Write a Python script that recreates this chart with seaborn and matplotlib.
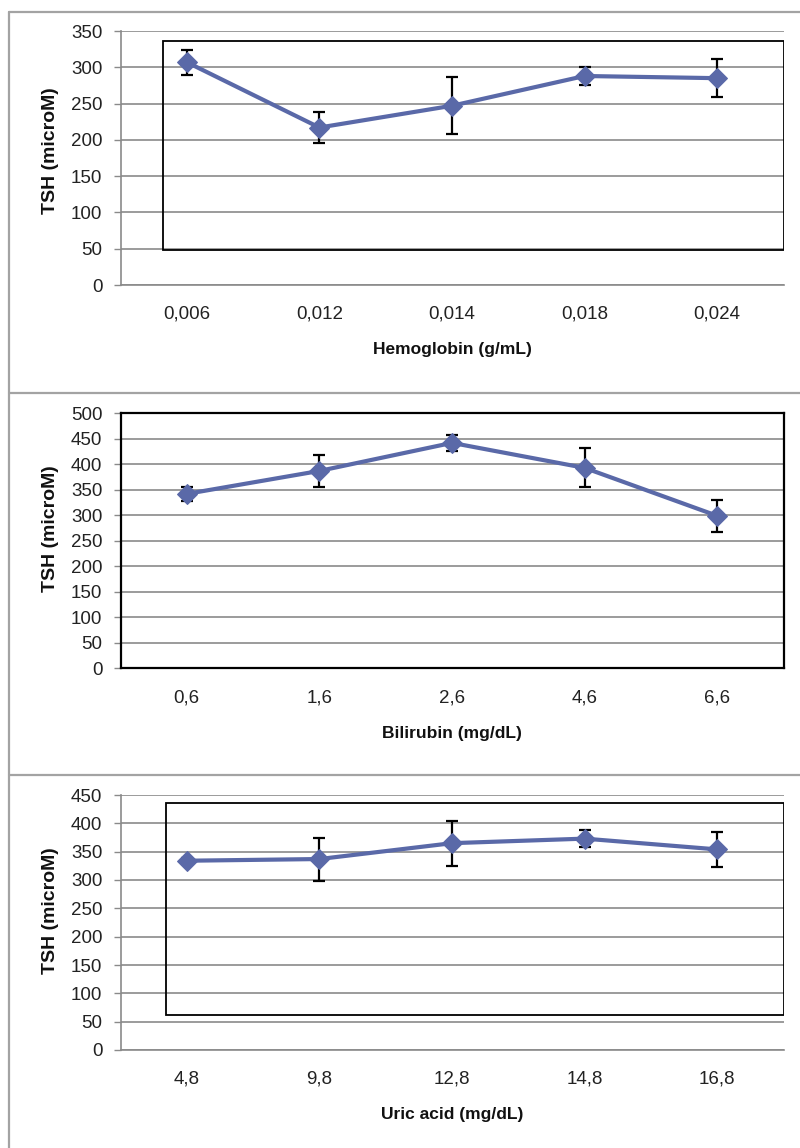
import numpy as np
import pandas as pd
import matplotlib
matplotlib.use("Agg")
import matplotlib.pyplot as plt
import seaborn as sns
from matplotlib.patches import Rectangle
from matplotlib.lines import Line2D

# ---------------- data ----------------
hb_labels = ["0,006", "0,012", "0,014", "0,018", "0,024"]
hb_tsh = [307, 217, 247, 288, 285]
hb_err = [17, 22, 39, 13, 26]

bil_labels = ["0,6", "1,6", "2,6", "4,6", "6,6"]
bil_tsh = [342, 387, 442, 393, 299]
bil_err = [13, 31, 16, 38, 31]

ua_labels = ["4,8", "9,8", "12,8", "14,8", "16,8"]
ua_tsh = [334, 337, 365, 373, 354]
ua_err = [5, 38, 40, 15, 31]

x_titles = ["Hemoglobin (g/mL)", "Bilirubin (mg/dL)", "Uric acid (mg/dL)"]
y_title = "TSH (microM)"
y_max = [350, 500, 450]

# ---------------- style ----------------
sns.set_style("white")
plt.rcParams["font.family"] = ["Liberation Sans", "DejaVu Sans"]

LINE = "#5a69a8"
GRID = "#8a8a8a"
FRAME = "#a3a3a3"

fig = plt.figure(figsize=(8.0, 11.48), dpi=100)
W, H = 800.0, 1148.0

# outer panel frame lines (figure coordinates)
def hline(y, x0=9, x1=800):
    fig.add_artist(Line2D([x0 / W, x1 / W], [1 - y / H, 1 - y / H],
                          color=FRAME, lw=1.6, transform=fig.transFigure))
def vline(x, y0=12, y1=1148):
    fig.add_artist(Line2D([x / W, x / W], [1 - y0 / H, 1 - y1 / H],
                          color=FRAME, lw=1.6, transform=fig.transFigure))

hline(12)
hline(392.7)
hline(775)
vline(9)

# axes placements (pixels: left, right, top, bottom)
ax_px = [(120.5, 783.5, 31, 285), (120.5, 783.5, 413.3, 668.3), (120.5, 783.5, 795, 1050)]
ylabel_y = [0.531, 0.547, 0.547]

panels = [
    (hb_labels, hb_tsh, hb_err),
    (bil_labels, bil_tsh, bil_err),
    (ua_labels, ua_tsh, ua_err),
]

# inner (misplaced) plot-area boxes for panels 1 and 3, in axes fraction
inner_boxes = {0: (0.064, 0.138, 0.936, 0.824), 2: (0.068, 0.136, 0.932, 0.831)}

for i, (labels, vals, errs) in enumerate(panels):
    l, r, t, b = ax_px[i]
    ax = fig.add_axes([l / W, 1 - b / H, (r - l) / W, (b - t) / H])
    df = pd.DataFrame({"pos": np.arange(len(labels)), "tsh": vals, "err": errs, "lab": labels})

    ax.errorbar(df["pos"], df["tsh"], yerr=df["err"], fmt="none", ecolor="black",
                elinewidth=1.6, capsize=4.5, capthick=1.6, zorder=3)
    sns.lineplot(data=df, x="pos", y="tsh", ax=ax, color=LINE, lw=3.0, marker="D",
                 markersize=10, markeredgecolor=LINE, sort=False, zorder=4, errorbar=None)

    ax.set_xlim(-0.5, len(labels) - 0.5)
    ax.set_ylim(0, y_max[i])
    ax.set_yticks(np.arange(0, y_max[i] + 1, 50))
    ax.set_xticks(df["pos"])
    ax.set_xticklabels(labels)

    ax.yaxis.grid(True, color=GRID, lw=1.2)
    ax.xaxis.grid(False)
    ax.set_axisbelow(True)

    ax.tick_params(axis="y", which="both", left=True, length=5, width=1, color=GRID,
                   pad=8, labelsize=13.5, labelcolor="#222222")
    ax.tick_params(axis="x", which="both", bottom=False, length=0, pad=15,
                   labelsize=13.5, labelcolor="#222222")

    ax.set_xlabel(x_titles[i], fontsize=12.5, fontweight="bold", labelpad=14, color="#111111")
    ax.set_ylabel(y_title, fontsize=14, fontweight="bold", color="#111111")
    ax.yaxis.set_label_coords(-0.093, ylabel_y[i])

    if i == 1:
        for s in ax.spines.values():
            s.set_visible(True)
            s.set_color("black")
            s.set_linewidth(1.6)
    else:
        for s in ["top", "right"]:
            ax.spines[s].set_visible(False)
        for s in ["left", "bottom"]:
            ax.spines[s].set_visible(True)
            ax.spines[s].set_color(GRID)
            ax.spines[s].set_linewidth(1.2)
        x0, y0, w, h = inner_boxes[i]
        ax.add_patch(Rectangle((x0, y0), w, h, transform=ax.transAxes, fill=False,
                               edgecolor="black", lw=1.3, zorder=2.5))

fig.savefig("out.png", dpi=100)
